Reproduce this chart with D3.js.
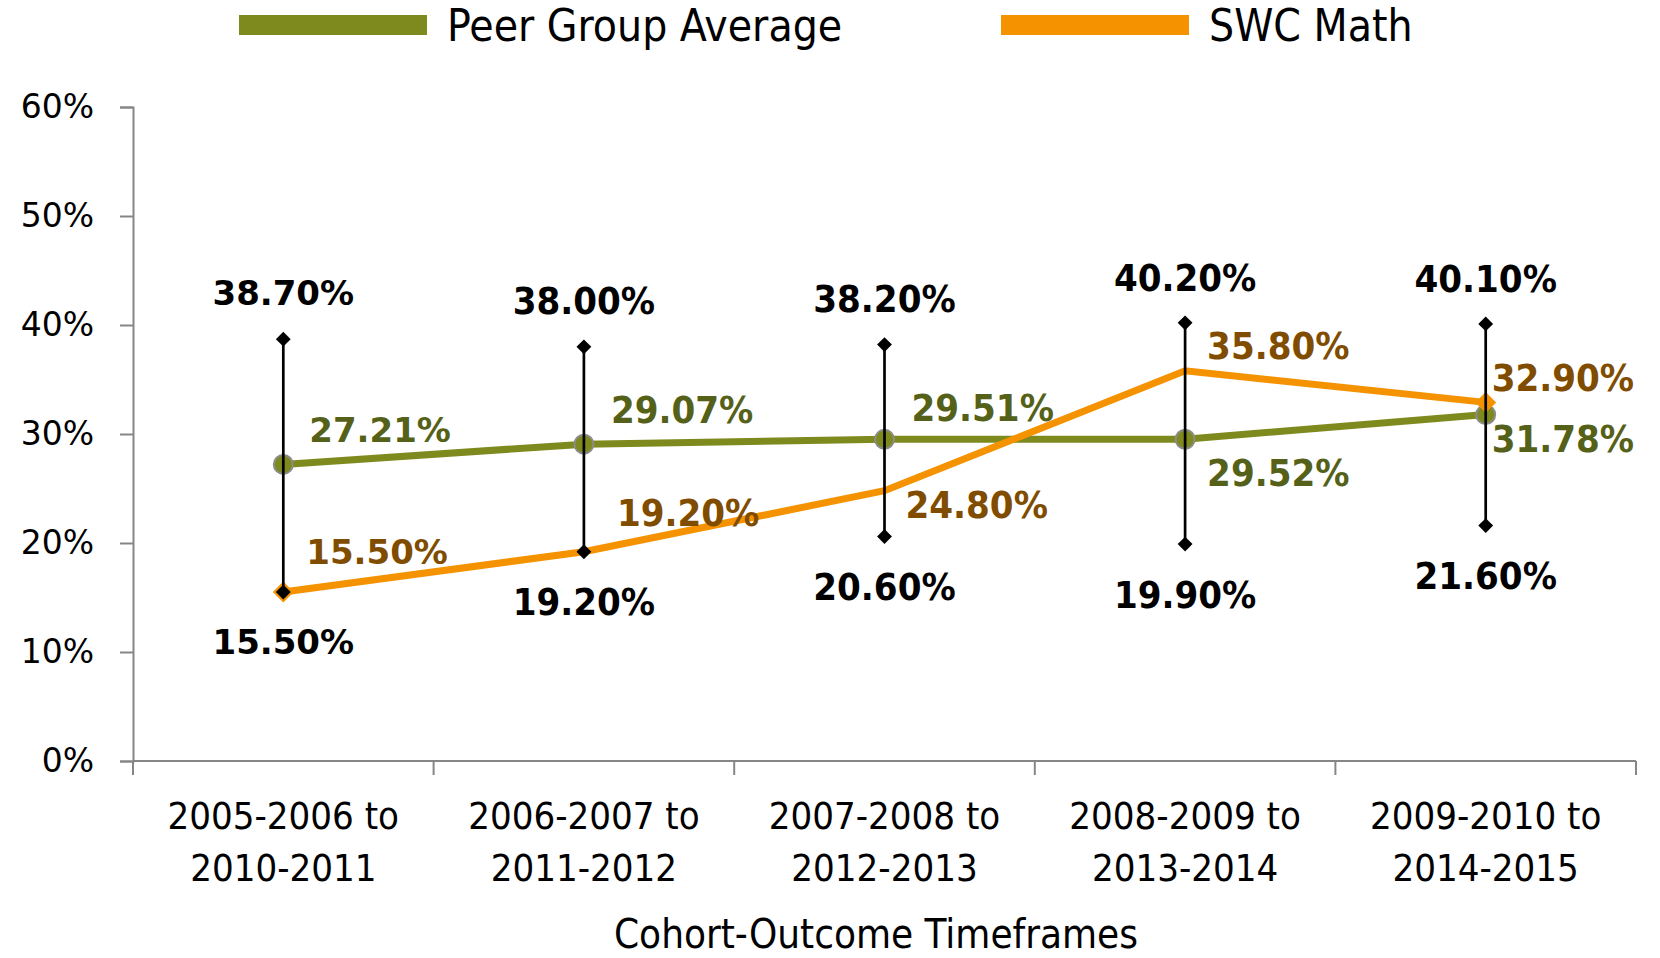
<!DOCTYPE html>
<html><head><meta charset="utf-8">
<script src="https://cdn.jsdelivr.net/npm/d3@7"></script>
<style>
body{margin:0;background:#fff;}
.cond{font-family:'DejaVu Sans Condensed','DejaVu Sans',sans-serif;font-stretch:condensed;}
.wide{font-family:'DejaVu Sans',sans-serif;}
</style>
</head><body>
<svg id="chart" width="1660" height="958"></svg>
<script>
const categories = [["2005-2006 to","2010-2011"],["2006-2007 to","2011-2012"],["2007-2008 to","2012-2013"],["2008-2009 to","2013-2014"],["2009-2010 to","2014-2015"]];
const peerAvg = [0.2721, 0.2907, 0.2951, 0.2952, 0.3178];
const swcMath = [0.155, 0.192, 0.248, 0.358, 0.329];
const rangeMax = [0.387, 0.380, 0.382, 0.402, 0.401];
const rangeMin = [0.155, 0.192, 0.206, 0.199, 0.216];
const yTicks = [0, 0.1, 0.2, 0.3, 0.4, 0.5, 0.6];
const seriesNames = ["Peer Group Average", "SWC Math"];
// label placement (layout only): [dx, dy] from the point
const peerLabelOffset = [[26,-35],[27,-35],[27,-32],[22,33],[6,24]];
const swcLabelOffset = [[23,-40],[33,-39],[21,14],[22,-25],[6,-25]];

const W = 1660, H = 958;
const m = {left:133, right:1636, top:107, bottom:761};
const svg = d3.select("#chart");
const keys = categories.map((c,i)=>i);
const x = d3.scaleBand().domain(keys).range([m.left, m.right]);
const cx = i => x(i) + x.bandwidth()/2;
const y = d3.scaleLinear().domain([0,0.6]).range([m.bottom, m.top]);

const GREEN = "#7E8A1E", ORANGE = "#F59200", GREEN_T = "#556118", ORANGE_T = "#7F4C00", AXIS = "#868686";

// y axis
const yAxis = svg.append("g").attr("transform",`translate(${m.left},0)`)
  .call(d3.axisLeft(y).tickValues(yTicks).tickSize(13).tickPadding(26).tickFormat(d3.format(".0%")));
yAxis.select(".domain").attr("stroke",AXIS).attr("stroke-width",2);
yAxis.selectAll(".tick line").attr("stroke",AXIS).attr("stroke-width",2);
yAxis.selectAll(".tick text").attr("class","wide").attr("font-size",33).attr("fill","#000").attr("font-family","DejaVu Sans");

// x axis
svg.append("line").attr("x1",m.left).attr("x2",m.right).attr("y1",y(0)).attr("y2",y(0)).attr("stroke",AXIS).attr("stroke-width",2);
const bounds = keys.map(i=>x(i)).concat([m.right]);
svg.selectAll(".xt").data(bounds).join("line").attr("x1",d=>d).attr("x2",d=>d)
  .attr("y1",y(0)).attr("y2",y(0)+14).attr("stroke",AXIS).attr("stroke-width",2);
const xl = svg.selectAll(".xl").data(categories).join("text").attr("class","cond")
  .attr("font-size",38).attr("text-anchor","middle").attr("fill","#000");
xl.each(function(c,i){
  const t = d3.select(this);
  c.forEach((s,j)=>t.append("tspan").attr("x",cx(i)).attr("y",829+j*52).text(s));
});
svg.append("text").attr("class","cond").attr("x",876).attr("y",948)
  .attr("text-anchor","middle").attr("font-size",40).attr("fill","#000").text("Cohort-Outcome Timeframes");

// lines
const line = d3.line().x((d,i)=>cx(i)).y(d=>y(d));
svg.append("path").datum(peerAvg).attr("d",line).attr("fill","none").attr("stroke",GREEN).attr("stroke-width",7);
svg.append("path").datum(swcMath).attr("d",line).attr("fill","none").attr("stroke",ORANGE).attr("stroke-width",7);

// markers
svg.selectAll(".pm").data(peerAvg).join("circle").attr("cx",(d,i)=>cx(i)).attr("cy",d=>y(d)).attr("r",9.5)
  .attr("fill",GREEN).attr("stroke","#8C8C8C").attr("stroke-width",2);
[0, swcMath.length-1].forEach(i=>{
  svg.append("path").attr("d",d3.symbol().type(d3.symbolSquare).size(190)()).attr("transform",`translate(${cx(i)},${y(swcMath[i])}) rotate(45)`)
    .attr("fill",ORANGE).attr("stroke",ORANGE).attr("stroke-width",1);
});

// range bars
const rb = svg.selectAll(".rb").data(keys).join("g");
rb.append("line").attr("x1",i=>cx(i)).attr("x2",i=>cx(i)).attr("y1",i=>y(rangeMax[i])).attr("y2",i=>y(rangeMin[i]))
  .attr("stroke","#000").attr("stroke-width",2.7);
rb.append("path").attr("d",d3.symbol().type(d3.symbolSquare).size(110)()).attr("transform",i=>`translate(${cx(i)},${y(rangeMax[i])}) rotate(45)`).attr("fill","#000");
rb.append("path").attr("d",d3.symbol().type(d3.symbolSquare).size(110)()).attr("transform",i=>`translate(${cx(i)},${y(rangeMin[i])}) rotate(45)`).attr("fill","#000");

// labels
const pct = d3.format(".2%");
function lab(i, xx, yy, txt, color, anchor){
  const first = i===0;
  svg.append("text").attr("class", first?"wide":"cond").attr("x",xx).attr("y",yy).attr("dy","0.36em")
    .attr("text-anchor",anchor).attr("font-weight","bold").attr("font-size", first?34:38).attr("fill",color).text(txt);
}
keys.forEach(i=>{
  lab(i, cx(i), y(rangeMax[i])-46, pct(rangeMax[i]), "#000", "middle");
  lab(i, cx(i), y(rangeMin[i])+50, pct(rangeMin[i]), "#000", "middle");
  lab(i, cx(i)+peerLabelOffset[i][0], y(peerAvg[i])+peerLabelOffset[i][1], pct(peerAvg[i]), GREEN_T, "start");
  lab(i, cx(i)+swcLabelOffset[i][0], y(swcMath[i])+swcLabelOffset[i][1], pct(swcMath[i]), ORANGE_T, "start");
});

// legend
const legX = [239, 1001];
seriesNames.forEach((n,k)=>{
  svg.append("rect").attr("x",legX[k]).attr("y",15).attr("width",188).attr("height",20).attr("fill",k?ORANGE:GREEN);
  svg.append("text").attr("class","cond").attr("x",legX[k]+208).attr("y",41).attr("font-size",44).attr("fill","#000").text(n);
});
</script>
</body></html>
